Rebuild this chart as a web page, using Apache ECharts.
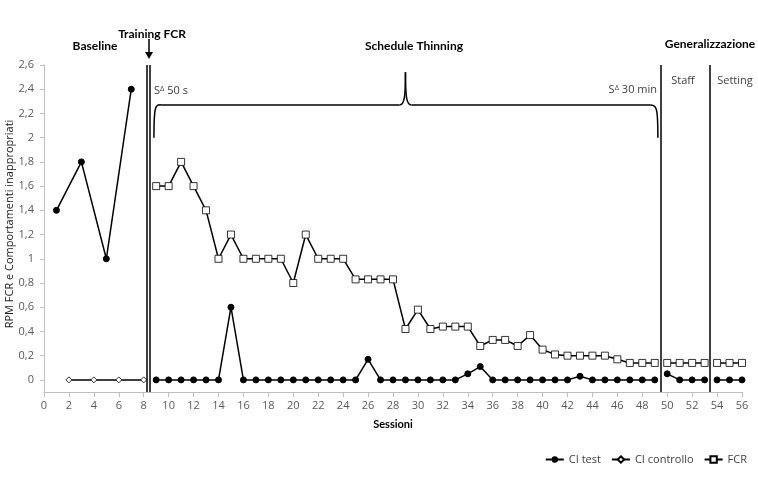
<!DOCTYPE html>
<html>
<head>
<meta charset="utf-8">
<script src="https://cdn.jsdelivr.net/npm/echarts@6/dist/echarts.min.js"></script>
<style>
html,body{margin:0;padding:0;background:#fff;}
#c{width:758px;height:478px;}
</style>
</head>
<body>
<div id="c"></div>
<script>
// ---- data ----
const sessioniBaseline = [1, 3, 5, 7];
const ciTestBaseline = [1.4, 1.8, 1.0, 2.4];
const sessioniControllo = [2, 4, 6, 8];
const ciControllo = [0, 0, 0, 0];
const sessioniThinning = [9,10,11,12,13,14,15,16,17,18,19,20,21,22,23,24,25,26,27,28,29,30,31,32,33,34,35,36,37,38,39,40,41,42,43,44,45,46,47,48,49];
const ciTestThinning = [0,0,0,0,0,0,0.6,0,0,0,0,0,0,0,0,0,0,0.17,0,0,0,0,0,0,0,0.05,0.11,0,0,0,0,0,0,0,0.03,0,0,0,0,0,0];
const fcrThinning = [1.6,1.6,1.8,1.6,1.4,1.0,1.2,1.0,1.0,1.0,1.0,0.8,1.2,1.0,1.0,1.0,0.83,0.83,0.83,0.83,0.42,0.58,0.42,0.44,0.44,0.44,0.28,0.33,0.33,0.28,0.37,0.25,0.21,0.2,0.2,0.2,0.2,0.17,0.14,0.14,0.14];
const sessioniStaff = [50, 51, 52, 53];
const ciTestStaff = [0.05, 0, 0, 0];
const fcrStaff = [0.14, 0.14, 0.14, 0.14];
const sessioniSetting = [54, 55, 56];
const ciTestSetting = [0, 0, 0];
const fcrSetting = [0.14, 0.14, 0.14];
const yTickLabels = [0, 0.2, 0.4, 0.6, 0.8, 1, 1.2, 1.4, 1.6, 1.8, 2, 2.2, 2.4, 2.6];
const phaseLines = [8.28, 8.52, 49.46, 53.45];
// brace in data coordinates: start, peak, end sessions; bottom, bar, peak values
const braceX = [8.82, 29.0, 49.25];
const braceY = [2.0, 2.27, 2.54];

function pairs(xs, ys) { return xs.map((x, i) => [x, ys[i]]); }

const chart = echarts.init(document.getElementById('c'), null, {renderer: 'canvas'});
const FONT = '"Open Sans", "Noto Sans", sans-serif';
const BOLD = 'Lato, "Open Sans", sans-serif';

const ciTestStyle = {
  type: 'line', name: 'CI test', symbol: 'circle', symbolSize: 6,
  itemStyle: {color: '#000', borderColor: '#000'},
  lineStyle: {color: '#000', width: 1.5}, z: 3, animation: false
};
const fcrStyle = {
  type: 'line', name: 'FCR', symbol: 'rect', symbolSize: 7,
  itemStyle: {color: '#fff', borderColor: '#000', borderWidth: 0.8},
  lineStyle: {color: '#000', width: 1.5}, z: 3, animation: false
};

const option = {
  animation: false,
  textStyle: {fontFamily: FONT},
  grid: {left: 44, right: 16, top: 65, bottom: 86, containLabel: false, outerBoundsMode: 'none'},
  legend: {
    right: 6, top: 449, itemWidth: 18, itemHeight: 8, itemGap: 10,
    textStyle: {fontFamily: FONT, fontSize: 11, color: '#404040'},
    data: ['CI test', 'CI controllo', 'FCR']
  },
  xAxis: {
    type: 'value', min: 0, max: 56, interval: 2,
    name: 'Sessioni', nameLocation: 'middle', nameGap: 27,
    nameTextStyle: {fontFamily: BOLD, fontWeight: 'bold', fontSize: 11, color: '#000'},
    axisLine: {onZero: false, lineStyle: {color: '#bfbfbf', width: 1}},
    axisTick: {show: true, length: 5, lineStyle: {color: '#bfbfbf'}},
    axisLabel: {fontSize: 11, color: '#595959', margin: 8},
    splitLine: {show: false}
  },
  yAxis: {
    type: 'value', min: -0.1, max: 2.6,
    axisLine: {show: true, onZero: false, lineStyle: {color: '#bfbfbf', width: 1}},
    axisTick: {show: true, length: 4, customValues: yTickLabels, lineStyle: {color: '#bfbfbf'}},
    axisLabel: {
      fontSize: 11, color: '#595959', margin: 10, customValues: yTickLabels,
      formatter: v => String(Math.round(v * 10) / 10).replace('.', ',')
    },
    splitLine: {show: false}
  },
  series: [
    Object.assign({}, ciTestStyle, {data: pairs(sessioniBaseline, ciTestBaseline),
      markLine: {
        silent: true, symbol: ['none', 'none'], label: {show: false},
        lineStyle: {color: '#000', width: 1.5, type: 'solid'},
        data: phaseLines.map(v => ({xAxis: v}))
      }
    }),
    {
      type: 'line', name: 'CI controllo', symbol: 'diamond', symbolSize: 6,
      itemStyle: {color: '#fff', borderColor: '#000', borderWidth: 0.8},
      lineStyle: {color: '#000', width: 1.5}, z: 3,
      data: pairs(sessioniControllo, ciControllo)
    },
    Object.assign({}, fcrStyle, {data: pairs(sessioniThinning, fcrThinning)}),
    Object.assign({}, fcrStyle, {data: pairs(sessioniStaff, fcrStaff)}),
    Object.assign({}, fcrStyle, {data: pairs(sessioniSetting, fcrSetting)}),
    Object.assign({}, ciTestStyle, {data: pairs(sessioniThinning, ciTestThinning)}),
    Object.assign({}, ciTestStyle, {data: pairs(sessioniStaff, ciTestStaff)}),
    Object.assign({}, ciTestStyle, {data: pairs(sessioniSetting, ciTestSetting)})
  ]
};
chart.setOption(option);

// annotations
function px(x, y) { return chart.convertToPixel({gridIndex: 0}, [x, y]); }
const pL = px(braceX[0], braceY[0]);
const pP = px(braceX[1], braceY[2]);
const pR = px(braceX[2], braceY[0]);
const yt = px(braceX[0], braceY[1])[1];
const braceStroke = {stroke: '#000', lineWidth: 1.5, fill: null};
function bez(x1, y1, c1x, c1y, c2x, c2y, x2, y2) {
  return {type: 'bezierCurve', shape: {x1: x1, y1: y1, cpx1: c1x, cpy1: c1y, cpx2: c2x, cpy2: c2y, x2: x2, y2: y2}, style: braceStroke};
}
function seg(x1, y1, x2, y2) {
  return {type: 'line', shape: {x1: x1, y1: y1, x2: x2, y2: y2}, style: braceStroke};
}
const braceParts = [
  bez(pL[0], pL[1], pL[0], yt - 4, pL[0] + 2, yt, pL[0] + 9, yt),
  seg(pL[0] + 9, yt, pP[0] - 6, yt),
  bez(pP[0] - 6, yt, pP[0] - 1, yt, pP[0], yt - 8, pP[0], pP[1]),
  bez(pP[0], pP[1], pP[0], yt - 8, pP[0] + 1, yt, pP[0] + 6, yt),
  seg(pP[0] + 6, yt, pR[0] - 7, yt),
  bez(pR[0] - 7, yt, pR[0] - 1, yt, pR[0], yt + 4, pR[0], pR[1])
];

const headStyle = {fontFamily: BOLD, fontWeight: 'bold', fontSize: 12, fill: '#000'};
const noteStyle = {fontFamily: FONT, fontSize: 11, fill: '#404040'};
function txt(x, y, text, style, align) {
  return {type: 'text', x: x, y: y,
    style: Object.assign({text: text, align: align || 'center', verticalAlign: 'middle'}, style)};
}
function rich(x, y, base, align) {
  return {type: 'text', x: x, y: y,
    style: Object.assign({}, noteStyle, {
      text: '{a|S}{s|Δ}{a| ' + base + '}', align: align || 'left', verticalAlign: 'middle',
      rich: {a: {fontFamily: FONT, fontSize: 11, fill: '#404040'},
             s: {fontFamily: FONT, fontSize: 7.5, fill: '#404040', verticalAlign: 'top', padding: [0, 0, 5, 0]}}
    })};
}

chart.setOption({
  graphic: braceParts.concat([
    {type: 'text', x: 10, y: 224, rotation: Math.PI / 2,
      style: {text: 'RPM FCR e Comportamenti inappropriati', align: 'center', verticalAlign: 'middle',
        fontFamily: FONT, fontSize: 11, fill: '#1a1a1a'}},
    txt(95, 46, 'Baseline', headStyle),
    txt(152, 34, 'Training FCR', headStyle),
    {type: 'line', shape: {x1: 149, y1: 39, x2: 149, y2: 55}, style: {stroke: '#000', lineWidth: 1.5}},
    {type: 'polygon', shape: {points: [[145, 52], [153, 52], [149, 59]]}, style: {fill: '#000'}},
    txt(414, 46, 'Schedule Thinning', headStyle),
    txt(710, 44, 'Generalizzazione', headStyle),
    txt(683, 81, 'Staff', noteStyle),
    txt(735, 81, 'Setting', noteStyle),
    rich(154, 91, '50 s'),
    rich(657, 90, '30 min', 'right')
  ])
});
</script>
</body>
</html>
